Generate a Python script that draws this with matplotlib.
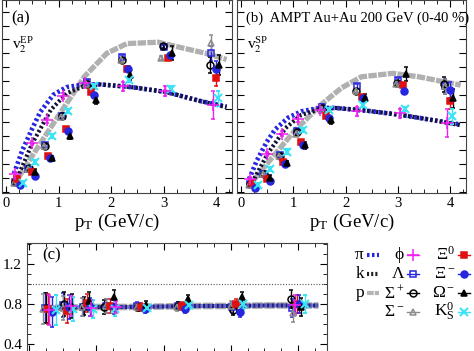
import matplotlib
matplotlib.use("Agg")
import matplotlib.pyplot as plt
from matplotlib.ticker import MultipleLocator
from matplotlib.lines import Line2D

plt.rcParams['font.family'] = ['Liberation Serif', 'DejaVu Serif']
plt.rcParams['mathtext.fontset'] = 'stix'

# ---- hydro-like curves (panel a: EP, panel b: SP) ----
pt_pi = [0.15, 0.3, 0.49, 0.65, 0.9, 1.15, 1.5, 1.8, 2.4, 3.05, 3.7, 4.2]
v2_pi_ep = [0.026, 0.058, 0.09, 0.115, 0.14, 0.151, 0.155, 0.155, 0.151, 0.144, 0.131, 0.123]
v2_pi_sp = [0.018, 0.045, 0.072, 0.09, 0.107, 0.116, 0.121, 0.121, 0.117, 0.111, 0.103, 0.097]

pt_k = [0.23, 0.5, 0.85, 1.15, 1.5, 1.8, 2.4, 3.05, 3.7, 4.2]
v2_k_ep = [0.023, 0.07, 0.118, 0.142, 0.153, 0.155, 0.151, 0.144, 0.131, 0.122]
v2_k_sp = [0.016, 0.054, 0.092, 0.111, 0.119, 0.121, 0.117, 0.111, 0.103, 0.096]

pt_p = [0.14, 0.5, 1.0, 1.5, 1.92, 2.3, 2.9, 3.4, 3.8, 4.2]
v2_p_ep = [0.009, 0.052, 0.11, 0.167, 0.2, 0.214, 0.216, 0.207, 0.2, 0.191]
v2_p_sp = [0.007, 0.041, 0.086, 0.124, 0.15, 0.166, 0.171, 0.166, 0.16, 0.154]

# ---- hadron species: (pT, v2 EP, v2 SP) ----
pt_lam = [0.17, 0.42, 0.74, 1.07, 1.54, 2.21, 3.0, 3.9]
lam_ep = [0.0145, 0.033, 0.067, 0.11, 0.158, 0.194, 0.209, 0.2]
lam_sp = [0.0116, 0.026, 0.053, 0.087, 0.123, 0.152, 0.161, 0.152]

pt_sigp = [0.17, 0.43, 0.74, 1.07, 1.54, 2.2, 2.98, 3.88]
sigp_ep = [0.014, 0.034, 0.066, 0.11, 0.156, 0.19, 0.21, 0.183]
sigp_sp = [0.011, 0.026, 0.052, 0.086, 0.121, 0.146, 0.157, 0.155]

pt_sigm = [0.15, 0.42, 0.73, 1.05, 1.52, 2.19, 2.96, 3.9]
sigm_ep = [0.013, 0.033, 0.066, 0.108, 0.155, 0.19, 0.193, 0.215]
sigm_sp = [0.01, 0.025, 0.051, 0.084, 0.12, 0.145, 0.155, 0.152]

pt_xi0 = [0.21, 0.5, 0.8, 1.15, 1.62, 2.31, 3.09, 4.0]
xi0_ep = [0.019, 0.029, 0.052, 0.091, 0.144, 0.178, 0.193, 0.164]
xi0_sp = [0.013, 0.019, 0.043, 0.072, 0.11, 0.137, 0.154, 0.131]

pt_xim = [0.26, 0.55, 0.84, 1.18, 1.68, 2.33, 3.12, 4.0]
xim_ep = [0.009, 0.022, 0.048, 0.087, 0.14, 0.178, 0.197, 0.178]
xim_sp = [0.005, 0.016, 0.04, 0.068, 0.106, 0.135, 0.145, 0.147]

pt_om = [0.55, 0.88, 1.22, 1.71, 2.36, 3.16, 4.05]
om_ep = [0.029, 0.048, 0.081, 0.132, 0.168, 0.2, 0.183]
om_sp = [0.02, 0.041, 0.067, 0.103, 0.135, 0.17, 0.135]
om_err = [0.004, 0.004, 0.005, 0.005, 0.006, 0.01, 0.014]

pt_k0s = [0.33, 0.55, 0.87, 1.18, 1.68, 2.34, 3.14, 4.04]
k0s_ep = [0.012, 0.043, 0.08, 0.116, 0.152, 0.161, 0.149, 0.135]
k0s_sp = [0.009, 0.033, 0.058, 0.089, 0.118, 0.125, 0.12, 0.109]

pt_phi = [0.17, 0.5, 0.78, 1.09, 1.5, 2.22, 3.03, 3.94]
phi_ep = [0.026, 0.07, 0.103, 0.138, 0.157, 0.152, 0.145, 0.125]
phi_sp = [0.018, 0.055, 0.084, 0.105, 0.118, 0.116, 0.113, 0.099]
phi_err = [0.003, 0.003, 0.004, 0.004, 0.005, 0.006, 0.007, 0.02]

# ---- panel (c): ratio SP/EP ----
pt_ratio_curve = [0.2, 0.6, 1.0, 1.5, 2.0, 2.5, 3.0, 3.5, 4.0, 4.3]
ratio_curve = [0.76, 0.765, 0.77, 0.77, 0.775, 0.78, 0.78, 0.785, 0.785, 0.785]

pt_r_sigm = [0.21, 0.5, 0.78, 1.15, 1.6, 2.2, 3.0, 3.93]
r_sigm = [0.75, 0.76, 0.77, 0.78, 0.77, 0.77, 0.78, 0.71]
pt_r_sigp = [0.25, 0.52, 0.82, 1.12, 1.62, 2.22, 3.03, 3.9]
r_sigp = [0.76, 0.8, 0.78, 0.77, 0.77, 0.78, 0.74, 0.85]
pt_r_lam = [0.23, 0.5, 0.8, 1.14, 1.61, 2.21, 3.01, 3.91]
r_lam = [0.76, 0.79, 0.77, 0.78, 0.78, 0.78, 0.77, 0.76]
pt_r_xi0 = [0.28, 0.56, 0.86, 1.2, 1.66, 2.27, 3.08, 3.98]
r_xi0 = [0.75, 0.73, 0.81, 0.78, 0.77, 0.78, 0.8, 0.8]
pt_r_xim = [0.34, 0.6, 0.9, 1.26, 1.72, 2.32, 3.14, 4.02]
r_xim = [0.72, 0.77, 0.77, 0.77, 0.75, 0.75, 0.72, 0.8]
pt_r_om = [0.64, 0.89, 1.27, 1.74, 2.36, 3.16, 4.04]
r_om = [0.78, 0.83, 0.87, 0.79, 0.85, 0.87, 0.77]
pt_r_k0s = [0.4, 0.66, 0.95, 1.28, 1.76, 2.38, 3.18, 4.1]
r_k0s = [0.74, 0.75, 0.75, 0.75, 0.76, 0.79, 0.8, 0.8]
pt_r_phi = [0.3, 0.62, 0.92, 1.3, 3.96]
r_phi = [0.74, 0.78, 0.76, 0.77, 0.79]
r_err = [0.15, 0.12, 0.09, 0.07, 0.04, 0.04, 0.05, 0.09]

BLUE = '#2626e0'
RED = '#e01010'
CYAN = '#3ae4f4'
MAG = '#f020f0'
GREY = '#8c8c8c'

species = [
    # name, marker, color, filled
    ('lam', 's', BLUE, False),
    ('sigp', 'o', 'black', False),
    ('sigm', '^', GREY, False),
    ('xi0', 's', RED, True),
    ('xim', 'o', BLUE, True),
    ('om', '^', 'black', True),
    ('k0s', 'x', CYAN, True),
    ('phi', '+', MAG, True),
]


def mstyle(marker, color, filled):
    d = dict(marker=marker, color=color, linestyle='none', ms=5, mew=1.1,
             elinewidth=1.0, capsize=1.5)
    if not filled:
        d['mfc'] = 'none'
    if marker == 'x':
        d['ms'] = 5.5
        d['mew'] = 1.5
    if marker == '+':
        d['ms'] = 8
    return d


def curves(ax, pi, k, p):
    ax.plot(pt_p, p, color='#b0b0b0', lw=3.8, ls=(0, (1.6, 0.25)), zorder=2)
    ax.plot(pt_pi, pi, color=BLUE, lw=3.4, ls=(0, (0.55, 0.55)), zorder=3)
    ax.plot(pt_k, k, color='#111133', lw=3.0, ls=(0.55, (0.55, 0.55)), zorder=3)


def points(ax, which):
    data = {
        'lam': (pt_lam, lam_ep, lam_sp, None),
        'sigp': (pt_sigp, sigp_ep, sigp_sp, None),
        'sigm': (pt_sigm, sigm_ep, sigm_sp, None),
        'xi0': (pt_xi0, xi0_ep, xi0_sp, None),
        'xim': (pt_xim, xim_ep, xim_sp, None),
        'om': (pt_om, om_ep, om_sp, om_err),
        'k0s': (pt_k0s, k0s_ep, k0s_sp, None),
        'phi': (pt_phi, phi_ep, phi_sp, phi_err),
    }
    for name, m, c, f in species:
        x, ep, sp, err = data[name]
        y = ep if which == 'ep' else sp
        if err is None:
            err = [0.003 + 0.008 * (xx > 3.5) for xx in x]
        ax.errorbar(x, y, yerr=err, zorder=4, **mstyle(m, c, f))


def style_top(ax):
    ax.set_xlim(-0.08, 4.3)
    ax.set_ylim(-0.002, 0.277)
    ax.xaxis.set_major_locator(MultipleLocator(1))
    ax.xaxis.set_minor_locator(MultipleLocator(0.25))
    ax.yaxis.set_major_locator(MultipleLocator(0.02))
    ax.set_yticklabels([])
    ax.tick_params(which='both', direction='in', top=True, right=True)
    ax.tick_params(which='major', length=5, labelsize=10.5)
    ax.tick_params(which='minor', length=3)
    ax.tick_params(axis='x', pad=3)
    ax.set_xlabel(r'p$_\mathregular{T}$ (GeV/c)', fontsize=13.5, labelpad=1)
    for s in ax.spines.values():
        s.set_color('#444444')


fig = plt.figure(figsize=(4.74, 3.51), dpi=100)

ax_a = fig.add_axes([0.004, 0.45, 0.485, 0.55])
curves(ax_a, v2_pi_ep, v2_k_ep, v2_p_ep)
points(ax_a, 'ep')
style_top(ax_a)
ax_a.text(0.04, 0.905, '(a)', transform=ax_a.transAxes, fontsize=12, va='center')
ax_a.text(0.045, 0.77, r'$\mathregular{v}_2^{\mathregular{EP}}$', transform=ax_a.transAxes,
          fontsize=11, va='center')

ax_b = fig.add_axes([0.5, 0.45, 0.483, 0.55])
curves(ax_b, v2_pi_sp, v2_k_sp, v2_p_sp)
points(ax_b, 'sp')
style_top(ax_b)
ax_b.text(0.04, 0.905, '(b)  AMPT Au+Au 200 GeV (0-40 %)', transform=ax_b.transAxes,
          fontsize=10.5, va='center')
ax_b.text(0.045, 0.77, r'$\mathregular{v}_2^{\mathregular{SP}}$', transform=ax_b.transAxes,
          fontsize=11, va='center')

# ---- panel (c) ----
ax_c = fig.add_axes([0.057, -0.003, 0.633, 0.311])
ax_c.axhline(1.0, color='#555555', lw=0.8, ls=(0, (1, 1.5)))
ax_c.plot(pt_ratio_curve, ratio_curve, color='#b0b0b0', lw=4.8, ls=(0, (1.6, 0.25)), zorder=2)
ax_c.plot(pt_ratio_curve, ratio_curve, color='#22227a', lw=3.0, ls=(0, (0.55, 0.55)), zorder=3)
ax_c.plot(pt_ratio_curve, ratio_curve, color=BLUE, lw=3.0, ls=(0.55, (0.55, 0.55)), zorder=3, alpha=0.6)
ratio_data = {
    'sigm': (pt_r_sigm, r_sigm), 'sigp': (pt_r_sigp, r_sigp), 'lam': (pt_r_lam, r_lam),
    'xi0': (pt_r_xi0, r_xi0), 'xim': (pt_r_xim, r_xim), 'om': (pt_r_om, r_om),
    'k0s': (pt_r_k0s, r_k0s), 'phi': (pt_r_phi, r_phi),
}
for name, m, c, f in species:
    x, y = ratio_data[name]
    err = r_err[-len(x):] if name != 'phi' else [0.15, 0.1, 0.08, 0.06, 0.1]
    ax_c.errorbar(x, y, yerr=err, zorder=4, **mstyle(m, c, f))
ax_c.set_xlim(-0.03, 4.43)
ax_c.set_ylim(0.32, 1.41)
ax_c.xaxis.set_major_locator(MultipleLocator(1))
ax_c.xaxis.set_minor_locator(MultipleLocator(0.25))
ax_c.yaxis.set_major_locator(MultipleLocator(0.4))
ax_c.yaxis.set_minor_locator(MultipleLocator(0.1))
ax_c.set_xticklabels([])
ax_c.tick_params(which='both', direction='in', top=True, right=True)
ax_c.tick_params(which='major', length=5, labelsize=11)
ax_c.tick_params(which='minor', length=3)
for s in ax_c.spines.values():
    s.set_color('#444444')
ax_c.text(0.05, 0.885, '(c)', transform=ax_c.transAxes, fontsize=12, va='center')

# ---- legend (drawn in figure pixel space) ----
lg = fig.add_axes([0, 0, 1, 1])
lg.set_xlim(0, 474)
lg.set_ylim(351, 0)
lg.axis('off')
lg.patch.set_alpha(0)

legend_cols = [
    (367, [('π', 'line', (BLUE, (0, (0.6, 0.6)), 3.0)),
           ('k', 'line', ('#222222', (0, (0.5, 0.5)), 3.0)),
           ('p', 'line', ('#b4b4b4', (0, (1.6, 0.25)), 3.0))]),
    (407, [('ϕ', 'pt', 'phi'), ('Λ', 'pt', 'lam'),
           (r'$\mathregular{\Sigma^+}$', 'pt', 'sigp'), (r'$\mathregular{\Sigma^-}$', 'pt', 'sigm')]),
    (458, [(r'$\mathregular{\Xi^0}$', 'pt', 'xi0'), (r'$\mathregular{\Xi^-}$', 'pt', 'xim'),
           (r'$\mathregular{\Omega^-}$', 'pt', 'om'), (r'$\mathregular{K_S^0}$', 'pt', 'k0s')]),
]
row_y = [255, 274, 293, 312]
sty = {n: (m, c, f) for n, m, c, f in species}
for x0, entries in legend_cols:
    for (label, kind, spec), y in zip(entries, row_y):
        lg.text(x0 - 3, y, label, ha='right', va='center', fontsize=12.5)
        if kind == 'line':
            c, ls, lw = spec
            lg.add_line(Line2D([x0, x0 + 12], [y, y], color=c, ls=ls, lw=lw))
        else:
            m, c, f = sty[spec]
            d = mstyle(m, c, f)
            lg.add_line(Line2D([x0, x0 + 12], [y, y], color=c, lw=1.0))
            lg.plot([x0 + 6], [y], marker=m, color=c, ls='none', ms=d['ms'], mew=d['mew'],
                    mfc=('none' if not f else c))

fig.savefig('out.png', dpi=100)
